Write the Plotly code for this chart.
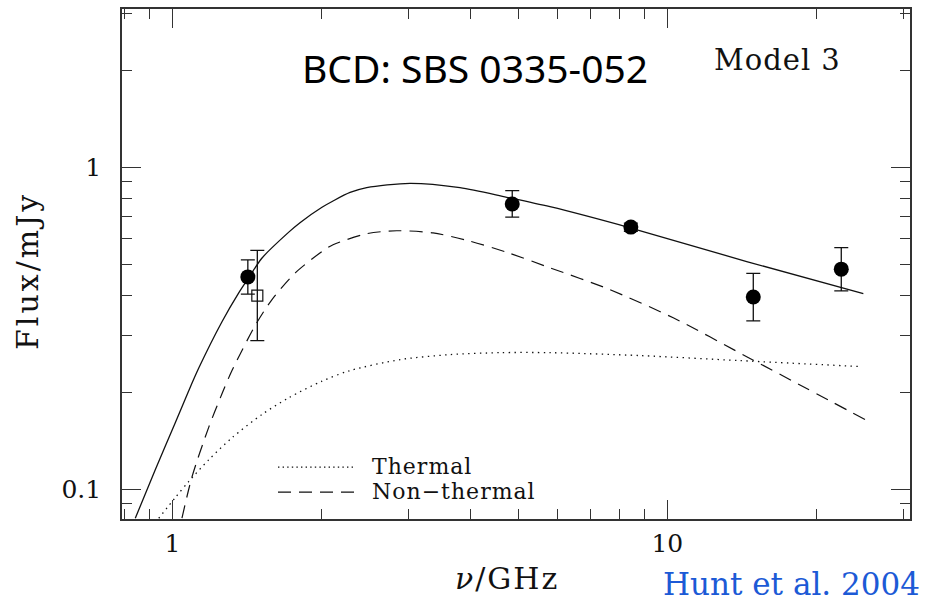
import numpy as np
import plotly.graph_objects as go

# ---- Data ----
# Observed fluxes (filled circles)
obs_nu = [1.42, 4.86, 8.44, 14.92, 22.47]
obs_flux = [0.456, 0.768, 0.651, 0.395, 0.482]
obs_hi = [0.515, 0.845, 0.670, 0.468, 0.562]
obs_lo = [0.403, 0.699, 0.632, 0.333, 0.4125]

# Open square point
sq_nu = [1.484]
sq_flux = [0.399]
sq_hi = [0.551]
sq_lo = [0.289]

# Total model (solid)
tot_nu = [0.841, 0.923, 1.013, 1.078, 1.130, 1.259, 1.361, 1.426, 1.517, 1.718,
          1.810, 2.005, 2.111, 2.285, 2.469, 3.020, 3.811, 4.736, 5.793, 8.41, 14.47, 24.90]
tot_flux = [0.0812, 0.1149, 0.1606, 0.2017, 0.2376, 0.3309, 0.4068, 0.4535, 0.5221, 0.6281,
            0.6721, 0.7503, 0.7849, 0.8340, 0.8635, 0.8905, 0.8630, 0.8058, 0.7531, 0.6477, 0.5089, 0.4047]

# Non-thermal (dashed)
nth_nu = [1.045, 1.095, 1.184, 1.259, 1.319, 1.470, 1.589, 1.771, 2.005, 2.111, 2.469,
          2.839, 3.362, 3.932, 4.736, 5.793, 7.544, 10.28, 14.47, 19.13, 25.09]
nth_flux = [0.0812, 0.1091, 0.1558, 0.1977, 0.2334, 0.3225, 0.3879, 0.4694, 0.5467, 0.5738, 0.6210,
            0.6343, 0.6245, 0.5926, 0.5439, 0.4867, 0.4201, 0.3404, 0.2578, 0.2053, 0.1646]

# Thermal (dotted)
th_nu = [0.938, 1.013, 1.078, 1.184, 1.319, 1.517, 1.718, 2.005, 2.285, 2.883, 3.638,
         4.591, 5.793, 8.81, 14.03, 24.72]
th_flux = [0.0812, 0.0941, 0.1055, 0.1234, 0.1444, 0.1706, 0.1922, 0.2164, 0.2334, 0.2524, 0.2616,
           0.2653, 0.2653, 0.2598, 0.2506, 0.2401]

x_major = [1, 10]
x_minor = [0.8, 0.9, 2, 3, 4, 5, 6, 7, 8, 9, 20, 30]
y_major = [0.1, 1]
y_minor = [0.09, 0.2, 0.3, 0.4, 0.5, 0.6, 0.7, 0.8, 0.9, 2, 3]

SERIF = "DejaVu Serif"
INK = "#111111"

fig = go.Figure()

fig.add_trace(go.Scatter(x=th_nu, y=th_flux, mode="lines",
                         line=dict(color=INK, width=1.3, dash="1.4px,4.4px", shape="spline", smoothing=0.8),
                         showlegend=False, hoverinfo="skip"))
fig.add_trace(go.Scatter(x=nth_nu, y=nth_flux, mode="lines",
                         line=dict(color=INK, width=1.2, dash="13px,8px", shape="spline", smoothing=0.8),
                         showlegend=False, hoverinfo="skip"))
fig.add_trace(go.Scatter(x=tot_nu, y=tot_flux, mode="lines",
                         line=dict(color=INK, width=1.3, shape="spline", smoothing=0.8),
                         showlegend=False, hoverinfo="skip"))

fig.add_trace(go.Scatter(
    x=sq_nu, y=sq_flux, mode="markers",
    marker=dict(symbol="square-open", size=11, color=INK, line=dict(width=1.2, color=INK)),
    error_y=dict(type="data", symmetric=False,
                 array=[h - f for h, f in zip(sq_hi, sq_flux)],
                 arrayminus=[f - l for l, f in zip(sq_lo, sq_flux)],
                 color=INK, thickness=1.3, width=7),
    showlegend=False))

fig.add_trace(go.Scatter(
    x=obs_nu, y=obs_flux, mode="markers",
    marker=dict(symbol="circle", size=15, color="black"),
    error_y=dict(type="data", symmetric=False,
                 array=[h - f for h, f in zip(obs_hi, obs_flux)],
                 arrayminus=[f - l for l, f in zip(obs_lo, obs_flux)],
                 color=INK, thickness=1.3, width=7),
    showlegend=False))

# ---- Plot-area geometry helpers (paper coords) ----
L, R, T, B = 122, 910, 7, 519
W, H = 928, 603
def px(x):
    return (x - L) / (R - L)
def py(y):
    return (B - y) / (B - T)

# Legend samples
fig.add_shape(type="line", xref="paper", yref="paper",
              x0=px(278), x1=px(356), y0=py(467), y1=py(467),
              line=dict(color=INK, width=1.2, dash="1.4px,3.2px"))
fig.add_shape(type="line", xref="paper", yref="paper",
              x0=px(278), x1=px(362), y0=py(492), y1=py(492),
              line=dict(color=INK, width=1.2, dash="13px,8px"))

ann = []
ann.append(dict(text='<span style="letter-spacing:1px">Thermal</span>', x=px(370), y=py(466),
                xanchor="left", yanchor="middle",
                font=dict(family=SERIF, size=22, color=INK)))
ann.append(dict(text='<span style="letter-spacing:1px">Non−thermal</span>', x=px(370), y=py(491),
                xanchor="left", yanchor="middle",
                font=dict(family=SERIF, size=22, color=INK)))
ann.append(dict(text="BCD: SBS 0335-052", x=px(475), y=py(66), xanchor="center", yanchor="middle",
                font=dict(family="Noto Sans", size=39, color="black")))
ann.append(dict(text='<span style="letter-spacing:1px">Model 3</span>', x=px(777), y=py(58),
                xanchor="center", yanchor="middle",
                font=dict(family=SERIF, size=29, color=INK)))
ann.append(dict(text='<span style="letter-spacing:3px">Flux/mJy</span>', x=px(28), y=py(270),
                xanchor="center", yanchor="middle", textangle=-90,
                font=dict(family=SERIF, size=30, color=INK)))
ann.append(dict(text='<span style="letter-spacing:2px"><i>ν</i>/GHz</span>', x=px(507), y=py(579),
                xanchor="center", yanchor="middle",
                font=dict(family=SERIF, size=30, color=INK)))
ann.append(dict(text="Hunt et al. 2004", x=px(922), y=py(584), xanchor="right", yanchor="middle",
                font=dict(family=SERIF, size=31, color="#1c5ad6")))
for a in ann:
    a.update(xref="paper", yref="paper", showarrow=False)

axis_common = dict(
    type="log", showgrid=False, zeroline=False,
    showline=True, linecolor="#333333", linewidth=1.6, mirror="allticks",
    ticks="inside", ticklen=19, tickwidth=1.3, tickcolor="#333333",
    tickmode="array",
    tickfont=dict(family=SERIF, size=25, color=INK),
)

fig.update_xaxes(**axis_common, range=[np.log10(0.7906), 1.4905],
                 tickvals=x_major, ticktext=["1", "10"], ticklabelstandoff=1,
                 minor=dict(tickmode="array", tickvals=x_minor, ticks="inside", ticklen=10,
                            tickwidth=1.3, tickcolor="#333333", showgrid=False))
fig.update_yaxes(**axis_common, range=[-1.0928, 0.4909],
                 tickvals=y_major, ticktext=["0.1", "1"], ticklabelstandoff=14,
                 minor=dict(tickmode="array", tickvals=y_minor, ticks="inside", ticklen=10,
                            tickwidth=1.3, tickcolor="#333333", showgrid=False))

fig.update_layout(
    width=W, height=H,
    margin=dict(l=L, r=W - R, t=T, b=H - B, pad=0),
    paper_bgcolor="white", plot_bgcolor="white",
    annotations=ann,
    showlegend=False,
)

fig.write_html("out.html")
